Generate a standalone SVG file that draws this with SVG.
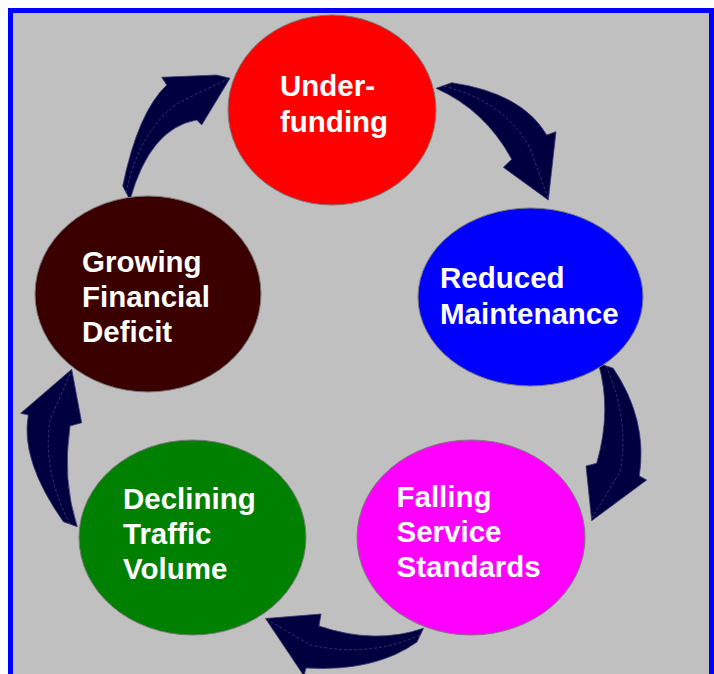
<svg xmlns="http://www.w3.org/2000/svg" width="714" height="674" viewBox="0 0 714 674">
<style>
.bg{fill:#C0C0C0;stroke:#0000FF;stroke-width:5}
.node{stroke:#7a7a7a;stroke-width:1}
.lbl{font-family:"Liberation Sans",Arial,sans-serif;font-weight:bold;font-size:29.5px;fill:#FFFFFF}
.arr{fill:#000040;stroke:#3a3a6e;stroke-width:0.8;stroke-linejoin:miter}
.ridge{fill:none;stroke:#4a4a80;stroke-width:0.7;stroke-dasharray:3 2}
</style>
<rect x="0" y="0" width="714" height="674" fill="#FFFFFF"/>
<rect class="bg" x="10.5" y="10.5" width="701" height="700"/>
<g id="connectors">
<path class="arr" d="M436,88.3 L451.7,82.7 Q522,93 546.7,135 L556,131.7 L548.3,200 L503.3,167.3 L511.7,159.3 Q485,110 436,88.3 Z"/>
<path class="ridge" d="M444,86 Q505,102 530,148 L548,198"/>
<path class="arr" d="M598.3,363.3 L613.3,368.3 Q648,420 639.3,476 L646.7,480 L591.7,520.7 L586,466 L596.7,463.3 Q612,410 598.3,363.3 Z"/>
<path class="ridge" d="M606,366 Q630,420 620,472 L592,518"/>
<path class="arr" d="M423.5,628.3 Q375,645 319,626 L321,614 L265.5,618.5 L304,676 L306,668 Q375,672 417,642 Z"/>
<path class="ridge" d="M420,635 Q370,658 310,645 L268,620"/>
<path class="arr" d="M77.3,526.7 L63.3,521.7 Q20,460 28.3,415 L20.7,413.3 L71.7,369.3 L81.7,422.7 L70,426 Q62,480 77.3,526.7 Z"/>
<path class="ridge" d="M70,524 Q42,470 50,420 L71,372"/>
<path class="arr" d="M130,200 L122.7,186 Q138,112 166.7,85 L161.7,77.3 L216.7,75 L230,78.3 L201.7,125 L196.7,120 Q150,128 130,200 Z"/>
<path class="ridge" d="M126,193 Q140,128 180,102 L228,79"/>
</g>
<g id="underfunding">
<ellipse class="node" cx="332" cy="110" rx="104" ry="95" fill="#FF0000"/>
<text class="lbl" x="280" y="96">Under-</text>
<text class="lbl" x="280" y="132">funding</text>
</g>
<g id="reduced-maintenance">
<ellipse class="node" cx="530.5" cy="297" rx="112.5" ry="89" fill="#0000FF"/>
<text class="lbl" x="440" y="288">Reduced</text>
<text class="lbl" x="440" y="323.5">Maintenance</text>
</g>
<g id="falling-service-standards">
<ellipse class="node" cx="471" cy="537.5" rx="114" ry="97.5" fill="#FF00FF"/>
<text class="lbl" x="396.5" y="506.5">Falling</text>
<text class="lbl" x="396.5" y="541.5">Service</text>
<text class="lbl" x="396.5" y="576.5">Standards</text>
</g>
<g id="declining-traffic-volume">
<ellipse class="node" cx="192.5" cy="537.5" rx="113.5" ry="97.5" fill="#008000"/>
<text class="lbl" x="123" y="509">Declining</text>
<text class="lbl" x="123" y="544">Traffic</text>
<text class="lbl" x="123" y="579">Volume</text>
</g>
<g id="growing-financial-deficit">
<ellipse class="node" cx="148" cy="294" rx="113" ry="98" fill="#3a0000"/>
<text class="lbl" x="82" y="271.5">Growing</text>
<text class="lbl" x="82" y="306.5">Financial</text>
<text class="lbl" x="82" y="341.5">Deficit</text>
</g>
</svg>
